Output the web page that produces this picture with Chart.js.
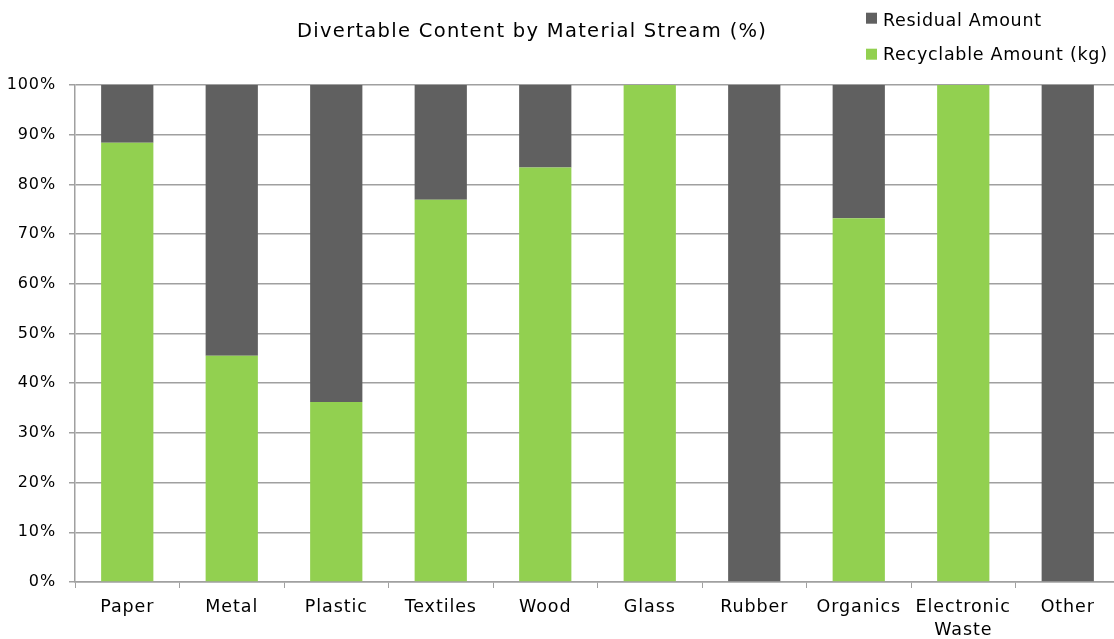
<!DOCTYPE html>
<html>
<head>
<meta charset="utf-8">
<style>
html,body{margin:0;padding:0;overflow:hidden;background:#fff;}
#wrap{width:1120px;height:639px;position:relative;}
</style>
<script src="https://cdn.jsdelivr.net/npm/chart.js@4"></script>
</head>
<body>
<div id="wrap"><canvas id="c" width="1120" height="639"></canvas></div>
<script>
const titleText = 'Divertable Content by Material Stream (%)';
const categories = ['Paper', 'Metal', 'Plastic', 'Textiles', 'Wood', 'Glass', 'Rubber', 'Organics', ['Electronic', 'Waste'], 'Other'];
const recyclableLabel = 'Recyclable Amount (kg)';
const residualLabel = 'Residual Amount';
const recyclable = [88.4, 45.5, 36.2, 76.9, 83.4, 100, 0, 73.2, 100, 0];
const residual = [11.6, 54.5, 63.8, 23.1, 16.6, 0, 100, 26.8, 0, 100];
const yTicks = [0, 10, 20, 30, 40, 50, 60, 70, 80, 90, 100];

const FONT = '"DejaVu Sans", sans-serif';
const GREEN = '#92d050';
const DARK = '#606060';
const GRID = '#a0a0a0';

function fitText(ctx, text, target) {
  ctx.letterSpacing = '0px';
  const w = ctx.measureText(text).width;
  const ls = (target - w) / Math.max(1, text.length - 1);
  ctx.letterSpacing = ls.toFixed(2) + 'px';
}

const spacing = {
  id: 'spacing',
  beforeDraw(chart) { chart.ctx.letterSpacing = '0.9px'; }
};

const overlay = {
  id: 'overlay',
  afterDraw(chart) {
    const ctx = chart.ctx;
    ctx.save();
    ctx.fillStyle = '#000';
    ctx.textBaseline = 'alphabetic';
    ctx.textAlign = 'left';
    ctx.font = '19.5px ' + FONT;
    fitText(ctx, titleText, 469);
    ctx.fillText(titleText, 297, 37);
    const items = [[residualLabel, DARK, 12.7, 25.7, 158], [recyclableLabel, GREEN, 48.7, 59.6, 224]];
    ctx.font = '17.5px ' + FONT;
    items.forEach(([t, c, sy, by, w]) => {
      ctx.letterSpacing = '0px';
      ctx.fillStyle = c;
      ctx.fillRect(866, sy, 11, 11);
      ctx.fillStyle = '#000';
      fitText(ctx, t, w);
      ctx.fillText(t, 883, by);
    });
    ctx.restore();
  }
};

new Chart(document.getElementById('c'), {
  type: 'bar',
  data: {
    labels: categories,
    datasets: [
      { label: recyclableLabel, data: recyclable, backgroundColor: GREEN, borderWidth: 0 },
      { label: residualLabel, data: residual, backgroundColor: DARK, borderWidth: 0 }
    ]
  },
  options: {
    responsive: false,
    animation: false,
    devicePixelRatio: 1,
    layout: { padding: { top: 85, left: 0, right: 0, bottom: 0 } },
    plugins: { legend: { display: false }, title: { display: false }, tooltip: { enabled: false } },
    datasets: { bar: { barPercentage: 0.5, categoryPercentage: 1.0 } },
    scales: {
      x: {
        stacked: true,
        offset: true,
        grid: { display: true, drawOnChartArea: false, drawTicks: true, tickLength: 6, color: GRID, offset: true },
        border: { color: GRID, width: 1.5 },
        ticks: { color: '#000', font: { family: FONT, size: 17.5, lineHeight: 1.3 }, padding: 8, maxRotation: 0, autoSkip: false },
        afterFit: s => { s.height = 57; }
      },
      y: {
        stacked: true,
        min: 0,
        max: 100,
        afterBuildTicks: s => { s.ticks = yTicks.map(v => ({ value: v })); },
        grid: { color: GRID, lineWidth: 1.5, tickLength: 6, drawTicks: true },
        border: { color: GRID, width: 1.5 },
        ticks: { color: '#000', font: { family: FONT, size: 16 }, padding: 13, callback: v => v + '%' },
        afterFit: s => { s.width = 75; }
      }
    }
  },
  plugins: [spacing, overlay]
});
</script>
</body>
</html>
